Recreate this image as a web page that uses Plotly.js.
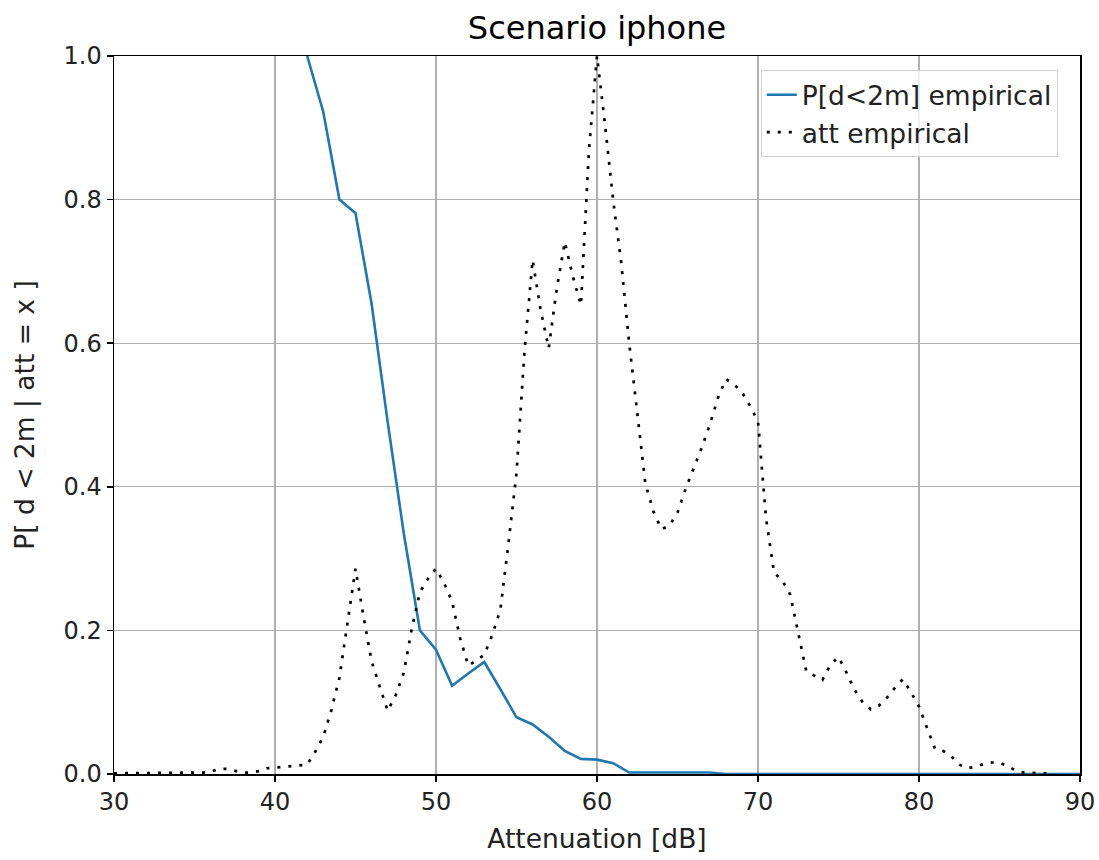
<!DOCTYPE html>
<html>
<head>
<meta charset="utf-8">
<script src="https://cdn.plot.ly/plotly-3.0.1.min.js"></script>
<style>
  html, body { margin: 0; padding: 0; background: #ffffff; }
  #chart { width: 1099px; height: 860px; }
</style>
</head>
<body>
<div id="chart"></div>
<script>
// P[d<2m] empirical
const probX = [42,43,44,45,46,47,48,49,50,51,52,53,54,55,56,57,58,59,60,61,62,63,64,65,66,67,68,69,70,71,72,73,74,75,76,77,78,79,80,81,82,83,84,85,86,87,88,89,90];
const probY = [1.0,0.922,0.800,0.781,0.655,0.49,0.335,0.200,0.173,0.123,0.140,0.156,0.118,0.079,0.069,0.052,0.032,0.021,0.020,0.015,0.002,0.002,0.002,0.002,0.002,0.002,0,0,0,0,0,0,0,0,0,0,0,0,0,0,0,0,0,0,0,0,0,0,0];

// att empirical (normalised attenuation distribution)
const attX = [30,30.5,31,31.5,32,32.5,33,33.5,34,34.5,35,35.5,36,36.5,37,37.5,38,38.5,39,39.5,40,40.5,41,41.5,42,42.5,43,43.5,44,44.5,45,45.5,46,46.5,47,47.5,48,48.5,49,49.5,50,50.5,51,51.5,52,52.5,53,53.5,54,54.5,55,55.5,56,56.5,57,57.5,58,58.5,59,59.5,60,60.5,61,61.5,62,62.5,63,63.5,64,64.5,65,65.5,66,66.5,67,67.5,68,68.5,69,69.5,70,70.5,71,71.5,72,72.5,73,73.5,74,74.5,75,75.5,76,76.5,77,77.5,78,78.5,79,79.5,80,80.5,81,81.5,82,82.5,83,83.5,84,84.5,85,85.5,86,86.5,87,87.5,88];
const attY = [0.001,0.001,0.001,0.001,0.001,0.001,0.001,0.001,0.001,0.001,0.001,0.002,0.003,0.007,0.007,0.005,0.002,0.002,0.004,0.008,0.009,0.010,0.011,0.012,0.013,0.031,0.052,0.089,0.134,0.21,0.286,0.219,0.157,0.122,0.088,0.110,0.141,0.203,0.253,0.272,0.286,0.266,0.240,0.189,0.151,0.158,0.166,0.194,0.229,0.321,0.419,0.590,0.716,0.646,0.593,0.676,0.741,0.693,0.653,0.869,1.0,0.904,0.80,0.713,0.60,0.503,0.405,0.366,0.341,0.346,0.364,0.397,0.425,0.454,0.486,0.523,0.550,0.543,0.532,0.513,0.491,0.356,0.28,0.270,0.25,0.198,0.143,0.137,0.131,0.152,0.163,0.141,0.117,0.100,0.090,0.095,0.106,0.12,0.132,0.114,0.094,0.064,0.035,0.032,0.025,0.013,0.008,0.010,0.014,0.016,0.016,0.011,0.005,0.002,0.001,0.001,0.001];

const xTicks = [30,40,50,60,70,80,90];
const yTicks = [0.0,0.2,0.4,0.6,0.8,1.0];
const yTickText = ['0.0','0.2','0.4','0.6','0.8','1.0'];

const titleText = 'Scenario iphone';
const xTitle = 'Attenuation [dB]';
const yTitle = 'P[ d &lt; 2m | att = x ]';
const name1 = 'P[d&lt;2m] empirical';
const name2 = 'att empirical';

const FONT = 'DejaVu Sans, Liberation Sans, sans-serif';

const traces = [
  {
    x: probX, y: probY, type: 'scatter', mode: 'lines', name: name1,
    line: { color: '#1f77b4', width: 2.6 }
  },
  {
    x: attX, y: attY, type: 'scatter', mode: 'lines', name: name2,
    line: { color: '#000000', width: 2.7, dash: '3px,8px' }
  }
];

const layout = {
  width: 1099, height: 860,
  paper_bgcolor: '#ffffff', plot_bgcolor: '#ffffff',
  margin: { l: 114, r: 19, t: 56, b: 86 },
  font: { family: FONT, color: '#000000', size: 24 },
  title: {
    text: titleText, x: 0.5, xref: 'paper', xanchor: 'center',
    y: 1 - 28 / 860, yref: 'container', yanchor: 'middle',
    font: { family: FONT, size: 32, color: '#000000' }
  },
  xaxis: {
    range: [30, 90], tickmode: 'array', tickvals: xTicks,
    ticks: 'outside', ticklen: 6, tickwidth: 1.5, tickcolor: '#000',
    showline: true, linecolor: '#000', linewidth: 1.5, mirror: true,
    showgrid: true, gridcolor: '#b0b0b0', gridwidth: 1.3, zeroline: false,
    tickfont: { family: FONT, size: 24, color: '#222' },
    title: { text: xTitle, font: { family: FONT, size: 26.5, color: '#222' }, standoff: 14 }
  },
  yaxis: {
    range: [0, 1], tickmode: 'array', tickvals: yTicks, ticktext: yTickText,
    ticks: 'outside', ticklen: 6, tickwidth: 1.5, tickcolor: '#000',
    showline: true, linecolor: '#000', linewidth: 1.5, mirror: true,
    showgrid: true, gridcolor: '#b0b0b0', gridwidth: 1.3, zeroline: false,
    tickfont: { family: FONT, size: 24, color: '#222' },
    title: { text: yTitle, font: { family: FONT, size: 26.5, color: '#222' }, standoff: 21 }
  },
  showlegend: true,
  legend: {
    x: 0.977, xanchor: 'right', xref: 'paper',
    y: 0.9805, yanchor: 'top', yref: 'paper',
    bgcolor: 'rgba(255,255,255,0.8)', bordercolor: '#d0d0d0', borderwidth: 1,
    font: { family: FONT, size: 26.5, color: '#222' },
    tracegroupgap: 0
  }
};

Plotly.newPlot('chart', traces, layout, { staticPlot: true, displayModeBar: false });
</script>
</body>
</html>
